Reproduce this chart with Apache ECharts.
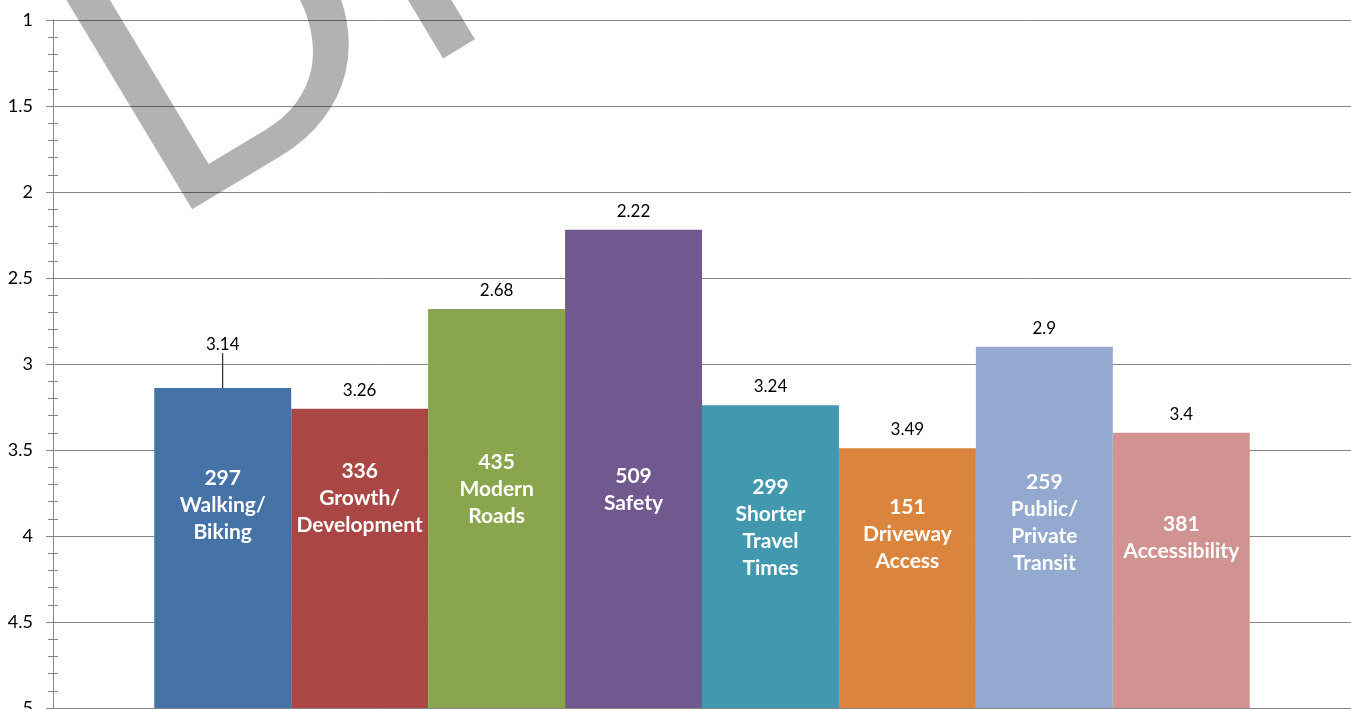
<!DOCTYPE html>
<html>
<head>
<meta charset="utf-8">
<title>Average ranking by topic</title>
<script src="https://cdn.jsdelivr.net/npm/echarts@6.0.0/dist/echarts.min.js"></script>
<style>
  html, body { margin: 0; padding: 0; background: #fff; }
  #chart { width: 1351px; height: 709px; }
</style>
</head>
<body>
<div id="chart"></div>
<script>
// survey topics, number of votes and average rank (1 = best, 5 = worst)
const topics = ['Walking/\nBiking', 'Growth/\nDevelopment', 'Modern\nRoads', 'Safety', 'Shorter\nTravel\nTimes', 'Driveway\nAccess', 'Public/\nPrivate\nTransit', 'Accessibility'];
const votes = [297, 336, 435, 509, 299, 151, 259, 381];
const avgRank = [3.14, 3.26, 2.68, 2.22, 3.24, 3.49, 2.9, 3.4];
const rankTicks = ['1', '1.5', '2', '2.5', '3', '3.5', '4', '4.5', '5'];

const WORST = 5;
const colors = ['#4572A7', '#AA4643', '#89A54E', '#71588F', '#4198AF', '#DB843D', '#93A9CF', '#D19392'];
// where the white topic labels sit, in rank units
const nameLabelAt = [3.82, 3.78, 3.73, 3.73, 3.95, 3.99, 3.92, 4.01];
const font = 'Lato';
const axisGray = '#868686';

const chart = echarts.init(document.getElementById('chart'));

const series = topics.map((topic, i) => ({
  name: topic.replace(/\n/g, ' '),
  type: 'bar',
  barGap: '0%',
  barCategoryGap: '15.6%',
  // bars grow up from the worst rank (5) towards the best (1)
  data: [WORST - avgRank[i]],
  itemStyle: { color: colors[i] },
  label: {
    show: true,
    position: 'top',
    distance: 10,
    color: '#000',
    fontFamily: font,
    fontSize: 17,
    formatter: () => String(avgRank[i])
  },
  labelLayout: i === 0 ? { dy: -25 } : null,
  labelLine: {
    show: i === 0,
    lineStyle: { color: '#000', width: 1 }
  },
  markPoint: {
    silent: true,
    symbol: 'rect',
    symbolSize: 0,
    data: [{ coord: [0, WORST - nameLabelAt[i]] }],
    label: {
      show: true,
      position: 'inside',
      color: '#fff',
      fontFamily: font,
      fontWeight: 'bold',
      fontSize: 21,
      lineHeight: 27,
      align: 'center',
      formatter: () => votes[i] + '\n' + topic
    }
  }
}));

chart.setOption({
  animation: false,
  grid: { left: 53, right: 0, top: 20, bottom: 1, outerBoundsMode: 'none' },
  xAxis: {
    type: 'category',
    data: [''],
    axisLine: { show: true, lineStyle: { color: axisGray } },
    axisTick: { show: false },
    axisLabel: { show: false }
  },
  yAxis: [
    {
      type: 'value',
      position: 'left',
      min: 0,
      max: 4,
      interval: 0.5,
      axisLine: { show: true, lineStyle: { color: axisGray } },
      axisTick: { show: true, length: 7, lineStyle: { color: axisGray } },
      minorTick: { show: true, splitNumber: 5, length: 5, lineStyle: { color: axisGray } },
      axisLabel: {
        margin: 20,
        color: '#000',
        fontFamily: font,
        fontSize: 18,
        formatter: (v, idx) => rankTicks[rankTicks.length - 1 - idx]
      },
      splitLine: { show: true, lineStyle: { color: axisGray, width: 1 } }
    },
    {
      // second copy only to draw the inner half of the crossing minor ticks
      type: 'value',
      position: 'left',
      min: 0,
      max: 4,
      interval: 0.5,
      axisLine: { show: false },
      axisTick: { show: false, inside: true },
      minorTick: { show: true, splitNumber: 5, length: 5, lineStyle: { color: axisGray } },
      axisLabel: { show: false },
      splitLine: { show: false }
    }
  ],
  series: series,
  graphic: [{
    type: 'text',
    x: 98,
    y: 121,
    rotation: 31 * Math.PI / 180,
    z: 100,
    silent: true,
    style: {
      text: 'DRAFT',
      fontFamily: font,
      fontSize: 385,
      fill: 'rgba(0,0,0,0.3)',
      align: 'left',
      verticalAlign: 'middle'
    }
  }]
});
</script>
</body>
</html>
